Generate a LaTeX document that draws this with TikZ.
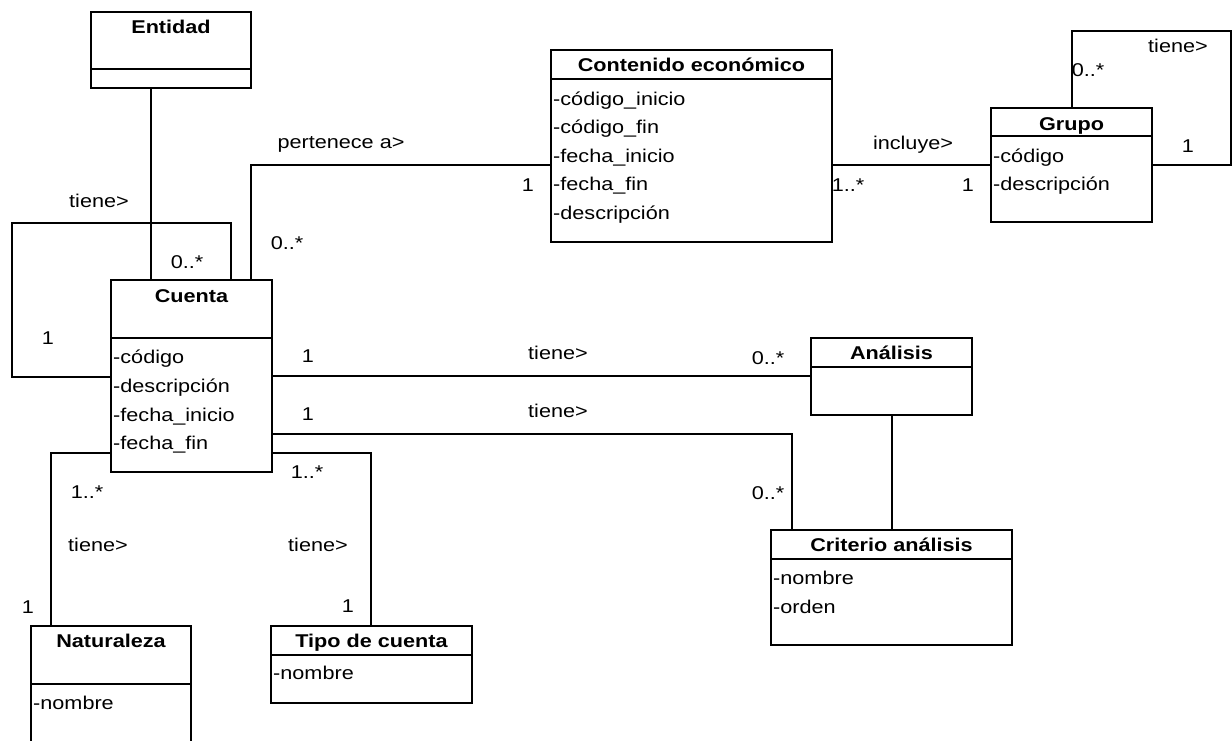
\documentclass[tikz,border=0pt]{standalone}
\usepackage{fontspec}
\newfontfamily\umlfont[FakeStretch=1.17]{Liberation Sans}
\begin{document}
\begin{tikzpicture}[x=1pt,y=-1pt,
  classbox/.style={draw, line width=1.5pt, anchor=north west, inner sep=0pt, outer sep=0pt},
  title/.style={font=\umlfont\fontsize{18.5}{20}\selectfont\bfseries, inner sep=0pt, anchor=mid, yshift=-4pt},
  attr/.style={font=\umlfont\fontsize{18.5}{20}\selectfont, inner sep=0pt, anchor=mid west, xshift=2pt, yshift=-4pt},
  mult/.style={font=\umlfont\fontsize{18.5}{20}\selectfont, inner sep=0pt, anchor=mid, yshift=-4pt},
  link/.style={draw, line width=1.5pt},
  divider/.style={draw, line width=1.5pt}]

\fill[white] (0,0) rectangle (1232,740);
\useasboundingbox (0,0) rectangle (1232,740);

% ---- classes ----
\node[classbox, minimum width=160pt, minimum height=76pt]  (entidad)    at (91,12)   {};
\node[classbox, minimum width=161pt, minimum height=192pt] (cuenta)     at (111,280) {};
\node[classbox, minimum width=281pt, minimum height=192pt] (contenido)  at (551,50)  {};
\node[classbox, minimum width=161pt, minimum height=114pt] (grupo)      at (991,108) {};
\node[classbox, minimum width=161pt, minimum height=77pt]  (analisis)   at (811,338) {};
\node[classbox, minimum width=241pt, minimum height=115pt] (criterio)   at (771,530) {};
\node[classbox, minimum width=160pt, minimum height=140pt] (naturaleza) at (31,626)  {};
\node[classbox, minimum width=201pt, minimum height=77pt]  (tipo)       at (271,626) {};

% compartment dividers
\draw[divider] (entidad.west |- 0,69)     -- (entidad.east |- 0,69);
\draw[divider] (cuenta.west |- 0,338)     -- (cuenta.east |- 0,338);
\draw[divider] (contenido.west |- 0,79)   -- (contenido.east |- 0,79);
\draw[divider] (grupo.west |- 0,136)      -- (grupo.east |- 0,136);
\draw[divider] (analisis.west |- 0,367)   -- (analisis.east |- 0,367);
\draw[divider] (criterio.west |- 0,559)   -- (criterio.east |- 0,559);
\draw[divider] (naturaleza.west |- 0,684) -- (naturaleza.east |- 0,684);
\draw[divider] (tipo.west |- 0,655)       -- (tipo.east |- 0,655);

% titles
\node[title] (tEntidad)    at (entidad.north |- 0,27)    {Entidad};
\node[title] (tCuenta)     at (cuenta.north |- 0,296)    {Cuenta};
\node[title] (tContenido)  at (contenido.north |- 0,65)  {Contenido económico};
\node[title] (tGrupo)      at (grupo.north |- 0,124)     {Grupo};
\node[title] (tAnalisis)   at (analisis.north |- 0,353)  {Análisis};
\node[title] (tCriterio)   at (criterio.north |- 0,545)  {Criterio análisis};
\node[title] (tNaturaleza) at (naturaleza.north |- 0,641) {Naturaleza};
\node[title] (tTipo)       at (tipo.north |- 0,641)      {Tipo de cuenta};

% attributes
\node[attr] (cu1) at (cuenta.west |- 0,357) {-código};
\node[attr] (cu2) at (cuenta.west |- 0,386) {-descripción};
\node[attr] (cu3) at (cuenta.west |- 0,415) {-fecha\_inicio};
\node[attr] (cu4) at (cuenta.west |- 0,443) {-fecha\_fin};

\node[attr] (co1) at (contenido.west |- 0,99)  {-código\_inicio};
\node[attr] (co2) at (contenido.west |- 0,127) {-código\_fin};
\node[attr] (co3) at (contenido.west |- 0,156) {-fecha\_inicio};
\node[attr] (co4) at (contenido.west |- 0,184) {-fecha\_fin};
\node[attr] (co5) at (contenido.west |- 0,213) {-descripción};

\node[attr] (gr1) at (grupo.west |- 0,156) {-código};
\node[attr] (gr2) at (grupo.west |- 0,184) {-descripción};

\node[attr] (cr1) at (criterio.west |- 0,578) {-nombre};
\node[attr] (cr2) at (criterio.west |- 0,607) {-orden};

\node[attr] (na1) at (naturaleza.west |- 0,703) {-nombre};
\node[attr] (ti1) at (tipo.west |- 0,673) {-nombre};

% ---- associations ----
\draw[link] (entidad.south -| 151,0) -- (cuenta.north -| 151,0);
\draw[link] (cuenta.west |- 0,377) -| (12,223) -| (cuenta.north -| 231,0);
\draw[link] (cuenta.north -| 251,0) |- (contenido.west |- 0,165);
\draw[link] (contenido.east |- 0,165) -- (grupo.west |- 0,165);
\draw[link] (grupo.north -| 1072,0) |- (1231,31) |- (grupo.east |- 0,165);
\draw[link] (cuenta.east |- 0,376) -- (analisis.west |- 0,376);
\draw[link] (cuenta.east |- 0,434) -| (criterio.north -| 792,0);
\draw[link] (analisis.south -| 892,0) -- (criterio.north -| 892,0);
\draw[link] (cuenta.west |- 0,453) -| (naturaleza.north -| 51,0);
\draw[link] (cuenta.east |- 0,453) -| (tipo.north -| 371,0);

% ---- role names and multiplicities ----
\node[mult] (l1)  at (99,201)   {tiene>};
\node[mult] (l2)  at (187,262)  {0..*};
\node[mult] (l3)  at (48,338)   {1};
\node[mult] (l4)  at (341,142)  {pertenece a>};
\node[mult] (l5)  at (287,243)  {0..*};
\node[mult] (l6)  at (528,185)  {1};
\node[mult] (l7)  at (913,143)  {incluye>};
\node[mult] (l8)  at (848,185)  {1..*};
\node[mult] (l9)  at (968,185)  {1};
\node[mult] (l10) at (1178,46)  {tiene>};
\node[mult] (l11) at (1088,70)  {0..*};
\node[mult] (l12) at (1188,146) {1};
\node[mult] (l13) at (308,356)  {1};
\node[mult] (l14) at (558,353)  {tiene>};
\node[mult] (l15) at (768,358)  {0..*};
\node[mult] (l16) at (308,414)  {1};
\node[mult] (l17) at (558,411)  {tiene>};
\node[mult] (l18) at (768,493)  {0..*};
\node[mult] (l19) at (87,492)   {1..*};
\node[mult] (l20) at (98,545)   {tiene>};
\node[mult] (l21) at (28,607)   {1};
\node[mult] (l22) at (307,472)  {1..*};
\node[mult] (l23) at (318,545)  {tiene>};
\node[mult] (l24) at (348,606)  {1};
\end{tikzpicture}
\end{document}
